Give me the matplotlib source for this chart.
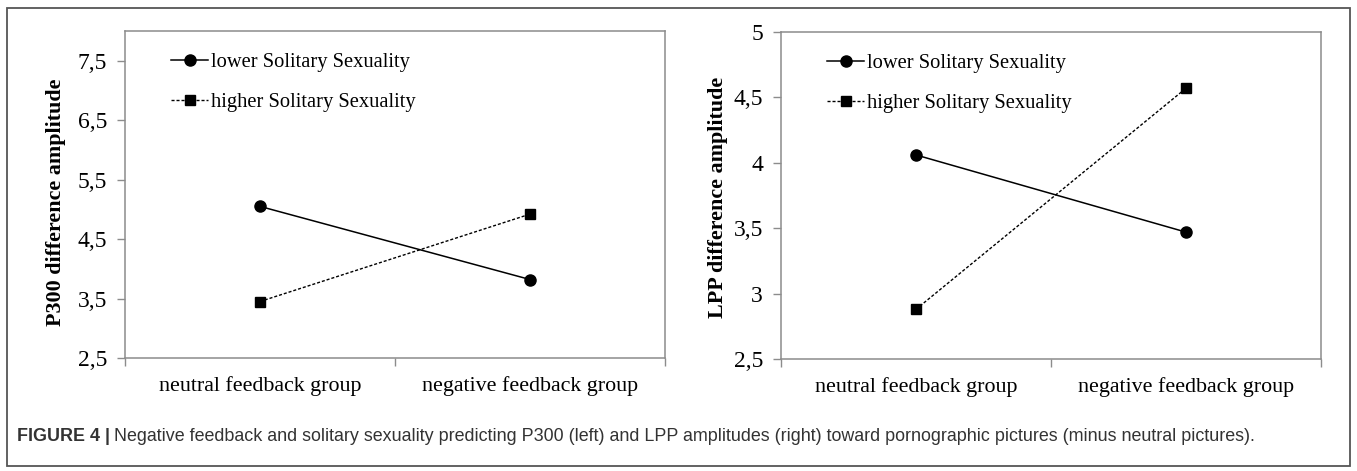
import matplotlib
matplotlib.use("Agg")
import matplotlib.pyplot as plt
from matplotlib.patches import Rectangle

# data
groups = ["neutral feedback group", "negative feedback group"]
series_names = ["lower Solitary Sexuality", "higher Solitary Sexuality"]

p300_lower = [5.05, 3.82]
p300_higher = [3.45, 4.92]
lpp_lower = [4.06, 3.47]
lpp_higher = [2.88, 4.57]

p300_ticks = [2.5, 3.5, 4.5, 5.5, 6.5, 7.5]
lpp_ticks = [2.5, 3.0, 3.5, 4.0, 4.5, 5.0]

caption_bold = "FIGURE 4 |"
caption_rest = ("Negative feedback and solitary sexuality predicting P300 (left) and LPP "
                "amplitudes (right) toward pornographic pictures (minus neutral pictures).")

W, H = 1357, 471
serif = ["Liberation Serif", "DejaVu Serif"]
frame_col = "#8c8c8c"

fig = plt.figure(figsize=(W / 100, H / 100), dpi=100)
fig.patch.set_facecolor("white")

# outer border of the figure panel
fig.patches.append(Rectangle((7 / W, 1 - 466 / H), (1350 - 7) / W, (466 - 8) / H,
                             transform=fig.transFigure, fill=False,
                             edgecolor="#555555", linewidth=1.3))


def fmt(v):
    return ("%g" % v).replace(".", ",")


def panel(rect, lower, higher, ylim, ticks, ylabel, label_x, label_y):
    ax = fig.add_axes(rect)
    xs = [0.5, 1.5]
    ax.plot(xs, lower, color="black", lw=1.1, marker="o", ms=8, label=series_names[0])
    ax.plot(xs, higher, color="black", lw=1.0, ls=(0, (2.2, 1.4)), marker="s", ms=7,
            label=series_names[1])
    ax.set_xlim(0, 2)
    ax.set_ylim(*ylim)
    ax.set_yticks(ticks)
    ax.set_yticklabels([fmt(t) for t in ticks], fontfamily=serif, fontsize=17)
    ax.set_xticks([0, 1, 2])
    ax.set_xticklabels([])
    ax.set_xticks(xs, minor=True)
    ax.set_xticklabels(groups, minor=True, fontfamily=serif, fontsize=15.8)
    ax.tick_params(axis="x", which="minor", length=0, pad=13)
    ax.tick_params(axis="x", which="major", length=6, color=frame_col, width=1)
    ax.tick_params(axis="y", length=6, color=frame_col, width=1, pad=7)
    for sp in ax.spines.values():
        sp.set_color(frame_col)
        sp.set_linewidth(1.1)
    ax.set_ylabel(ylabel, fontfamily=serif, fontsize=15.8, fontweight="bold")
    ax.yaxis.set_label_coords(label_x, label_y)
    ax.legend(loc="upper left", bbox_to_anchor=(0.07, 0.958), frameon=False,
              prop={"family": serif, "size": 14.8}, handlelength=1.8,
              handletextpad=0.15, labelspacing=1.0, borderaxespad=0)
    return ax


panel([125 / W, 1 - 358 / H, 540 / W, (358 - 31) / H], p300_lower, p300_higher,
      (2.5, 8.0), p300_ticks, "P300 difference amplitude", -0.11, 0.475)
panel([781 / W, 1 - 359 / H, 540 / W, (359 - 32) / H], lpp_lower, lpp_higher,
      (2.5, 5.0), lpp_ticks, "LPP difference amplitude", -0.098, 0.495)

# caption
sans = ["Liberation Sans", "DejaVu Sans"]
t1 = fig.text(17 / W, 1 - 441 / H, caption_bold, fontfamily=sans, fontweight="bold",
              fontsize=12.9, color="#333333", va="baseline")
renderer = fig.canvas.get_renderer()
bb = t1.get_window_extent(renderer)
fig.text((bb.x1 + 4) / W, 1 - 441 / H, caption_rest, fontfamily=sans,
         fontsize=12.9, color="#333333", va="baseline")

fig.savefig("out.png", dpi=100, facecolor="white")
